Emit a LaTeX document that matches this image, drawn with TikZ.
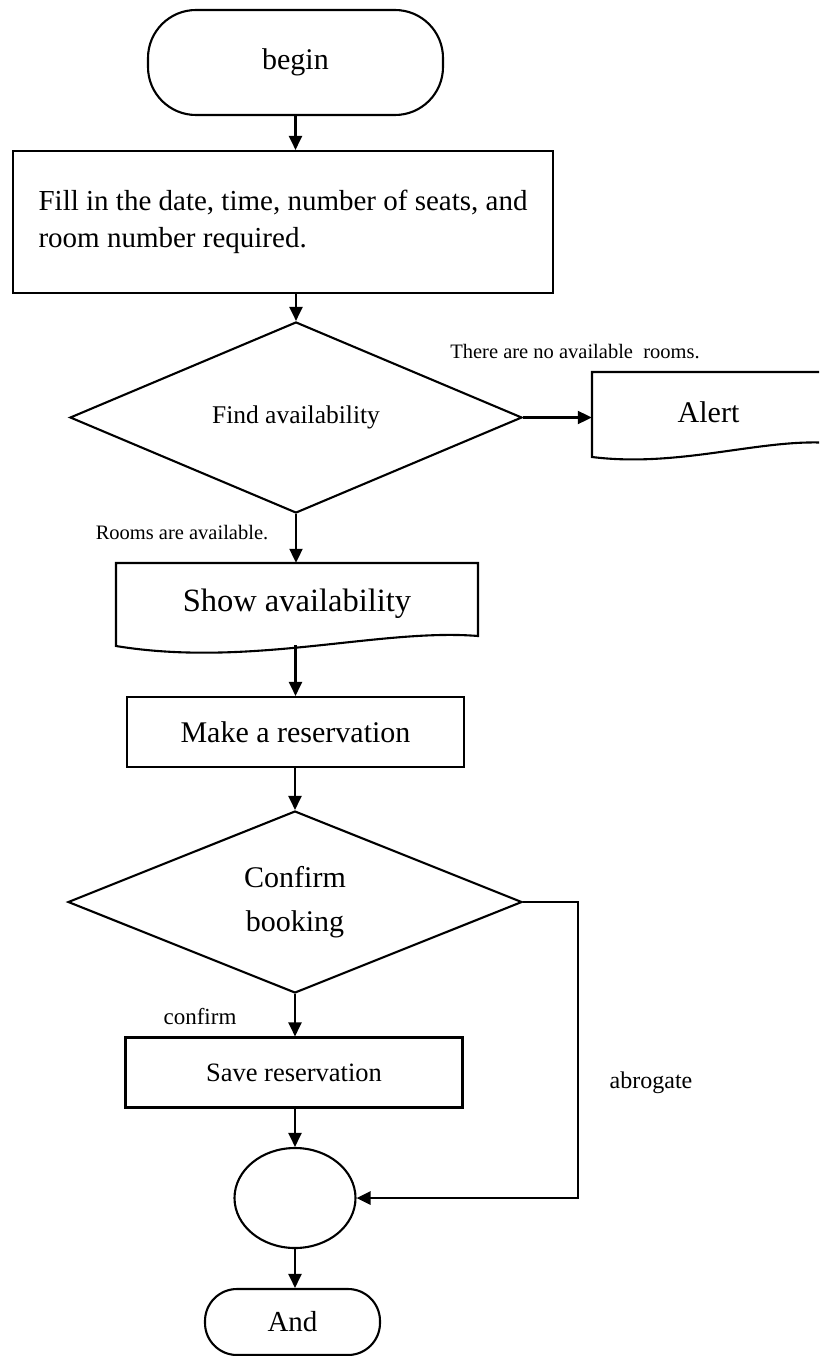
\documentclass[tikz,border=0pt]{standalone}
\usepackage{fontspec}
\setmainfont{Liberation Serif}
\usetikzlibrary{shapes.geometric,arrows.meta,calc}
\tikzset{
  box/.style={draw, line width=2.1pt, rectangle, inner sep=0pt},
  term/.style={draw, line width=2.1pt, rectangle, inner sep=0pt},
  dec/.style={draw, line width=2.1pt, diamond, inner sep=0pt},
  docnode/.style={rectangle, inner sep=0pt},
  docline/.style={line width=2.1pt},
  conn/.style={line width=2.1pt, -{Triangle[length=14pt,width=13pt]}},
  lbl/.style={inner sep=0pt},
}
\newcommand{\fs}[1]{\fontsize{#1}{#1}\selectfont}
\begin{document}
\begin{tikzpicture}[x=1pt,y=-1pt]
\useasboundingbox (0,0) rectangle (819,1356);
\clip (0,0) rectangle (819,1356);
\fill[white] (0,0) rectangle (819,1356);

% nodes
\node[term, rounded corners=48pt, minimum width=295pt, minimum height=105pt, font=\fs{30}] (begin) at (295.5,62.5) {begin};
\node[box, minimum width=540pt, minimum height=142pt, align=left, font=\fontsize{29}{37}\selectfont] (fill) at (283,222)
  {Fill in the date, time, number of seats, and\\room number required.};
\node[dec, minimum width=452pt, minimum height=175pt, font=\fs{25.5}] (d1) at (296,417.5) {Find availability};
\node[docnode, minimum width=362pt, minimum height=82pt, font=\fs{32.5}] (show) at (297,604) {Show availability};
\node[docnode, minimum width=233pt, minimum height=80pt, font=\fs{30}] (alert) at (708.5,412) {Alert};
\node[box, minimum width=337pt, minimum height=70pt, font=\fs{30}] (make) at (295.5,732) {Make a reservation};
\node[dec, minimum width=454pt, minimum height=182pt, align=center, font=\fontsize{30}{44}\selectfont] (d2) at (295,902)
  {Confirm\\booking};
\node[box, minimum width=337pt, minimum height=70pt, font=\fs{26.5}] (save) at (294,1072.5) {Save reservation};
\node[ellipse, draw, line width=2.1pt, minimum width=121pt, minimum height=100pt, inner sep=0pt] (merge) at (295,1198) {};
\node[term, rounded corners=32pt, minimum width=175pt, minimum height=66pt, font=\fs{29}] (end) at (292.5,1322) {And};

% document outlines
\draw[docline] (116,563) -- (478,563) -- (478,636)
  .. controls (380,628) and (250,668) .. (116,646) -- cycle;
\draw[docline] (592,372) -- (830,372) -- (830,443)
  .. controls (762,438) and (680,468) .. (592,457) -- cycle;

% labels
\node[lbl, font=\fs{20.5}] (lno) at (575,352) {There are no available\ \ rooms.};
\node[lbl, font=\fs{20.5}] (lyes) at (182,533) {Rooms are available.};
\node[lbl, font=\fs{23}] (lconf) at (200,1017) {confirm};
\node[lbl, font=\fs{24}] (labr) at (651,1083) {abrogate};

% connectors
\coordinate (abr) at (578,902);
\draw[conn] (begin.south) -- (begin.south |- fill.north);
\draw[conn] (fill.south -| d1.north) -- (d1.north);
\draw[conn] (d1.east) -- (d1.east -| alert.west);
\draw[conn] (d1.south) -- (d1.south |- show.north);
\draw[conn] (show.south -| make.north) -- (make.north);
\draw[conn] (make.south) -- (make.south -| d2.north) -- (d2.north);
\draw[conn] (d2.south) -- (d2.south |- save.north);
\draw[conn] (save.south -| merge.north) -- (merge.north);
\draw[conn] (merge.south) -- (merge.south |- end.north);
\draw[line width=2.8pt, -{Triangle[length=14pt,width=13pt]}] (d2.east) -- (abr) |- (merge.east);
\end{tikzpicture}
\end{document}
